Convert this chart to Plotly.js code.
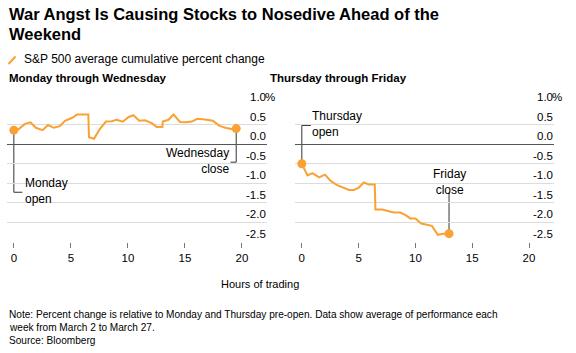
<!DOCTYPE html>
<html>
<head>
<meta charset="utf-8">
<script src="https://cdn.plot.ly/plotly-3.0.1.min.js"></script>
<style>
html,body{margin:0;padding:0;background:#fff;}
#chart{width:576px;height:353px;}
</style>
</head>
<body>
<div id="chart"></div>
<script>
// ---- Data ----
const hoursMonWed = [0, 0.38, 0.97, 1.46, 1.93, 2.52, 3.0, 3.5, 4.04, 4.48, 5.07, 5.56, 6.53, 6.59, 7.03, 7.55, 8.08, 8.58, 9.02, 9.55, 10.04, 10.48, 11.0, 11.5, 12.09, 12.53, 13.03, 13.06, 13.56, 14.0, 14.58, 15.08, 15.6, 16.1, 16.78, 17.45, 18.0, 18.54, 19.06, 19.5];
const pctMonWed   = [0.36, 0.375, 0.52, 0.56, 0.42, 0.36, 0.49, 0.42, 0.46, 0.6, 0.67, 0.76, 0.76, 0.18, 0.14, 0.39, 0.58, 0.59, 0.625, 0.575, 0.69, 0.74, 0.6, 0.61, 0.54, 0.44, 0.44, 0.58, 0.625, 0.76, 0.57, 0.56, 0.58, 0.65, 0.63, 0.6, 0.475, 0.42, 0.39, 0.4];
const hoursThuFri = [0, 0.5, 0.93, 1.52, 2.04, 2.54, 3.12, 3.56, 4.15, 4.58, 5.02, 5.46, 5.9, 6.42, 6.48, 7.07, 7.65, 8.09, 8.67, 9.1, 9.55, 10.0, 10.51, 11.0, 11.45, 11.97, 12.47, 12.96];
const pctThuFri   = [-0.5, -0.8, -0.74, -0.85, -0.78, -0.94, -1.05, -1.1, -1.17, -1.17, -1.11, -0.98, -1.03, -1.03, -1.67, -1.67, -1.72, -1.75, -1.75, -1.81, -1.9, -1.9, -2.03, -2.06, -2.09, -2.32, -2.29, -2.29];
const yTickVals   = [1.0, 0.5, 0, -0.5, -1.0, -1.5, -2.0, -2.5];
const yTickLabels = ["1.0", "0.5", "0.0", "-0.5", "-1.0", "-1.5", "-2.0", "-2.5"];
const xTickVals   = [0, 5, 10, 15, 20];
const panelTitles = ["Monday through Wednesday", "Thursday through Friday"];

// ---- Layout helpers (pixel -> paper) ----
const W = 576, H = 353;
const mL = 7, mR = 22, mT = 105, mB = 111;
const pw = W - mL - mR, ph = H - mT - mB;
const px = X => (X - mL) / pw;
const py = Y => (H - mB - Y) / ph;

const ORANGE = '#f9a132';
const FONT = '"Liberation Sans", Arial, sans-serif';
const domL = [0, px(267)], domR = [px(295), 1];

const first = (a) => a[0], last = (a) => a[a.length - 1];

const traces = [
  {x: hoursMonWed, y: pctMonWed, xaxis: 'x', yaxis: 'y', mode: 'lines', line: {color: ORANGE, width: 2}},
  {x: [first(hoursMonWed), last(hoursMonWed)], y: [first(pctMonWed), last(pctMonWed)], xaxis: 'x', yaxis: 'y', mode: 'markers', marker: {color: ORANGE, size: 9}},
  {x: hoursThuFri, y: pctThuFri, xaxis: 'x2', yaxis: 'y2', mode: 'lines', line: {color: ORANGE, width: 2}},
  {x: [first(hoursThuFri), last(hoursThuFri)], y: [first(pctThuFri), last(pctThuFri)], xaxis: 'x2', yaxis: 'y2', mode: 'markers', marker: {color: ORANGE, size: 9}}
];

const xAxisBase = {
  range: [-0.6, 22.2], tickvals: xTickVals, ticks: 'outside', ticklen: 5, tickwidth: 1, tickcolor: '#777',
  showgrid: false, zeroline: false, showline: false, tickfont: {size: 11.5, color: '#000', family: FONT}, fixedrange: true
};
const yAxisBase = {
  range: [-2.503, 1.003], tickvals: yTickVals, showticklabels: false, ticks: '',
  showgrid: true, gridcolor: '#dcdcdc', gridwidth: 1, zeroline: true, zerolinecolor: '#555', zerolinewidth: 1,
  showline: false, fixedrange: true
};

const ann = [];
const txt = (text, X, Y, opts) => ann.push(Object.assign({
  text: text, xref: 'paper', yref: 'paper', x: px(X), y: py(Y), xanchor: 'left', yanchor: 'middle',
  showarrow: false, font: {family: FONT, size: 12, color: '#000'}
}, opts || {}));

// Titles
txt('<b>War Angst Is Causing Stocks to Nosedive Ahead of the</b>', 7, 14, {font: {family: FONT, size: 16.5, color: '#000'}});
txt('<b>Weekend</b>', 7, 34, {font: {family: FONT, size: 16.5, color: '#000'}});
txt('S&P 500 average cumulative percent change', 22, 59, {font: {family: FONT, size: 12, color: '#000'}});
txt('<b>' + panelTitles[0] + '</b>', 7, 78, {font: {family: FONT, size: 11.5, color: '#000'}});
txt('<b>' + panelTitles[1] + '</b>', 268, 78, {font: {family: FONT, size: 11.5, color: '#000'}});
txt('Hours of trading', 260, 284, {xanchor: 'center', font: {family: FONT, size: 11, color: '#000'}});
txt('Note: Percent change is relative to Monday and Thursday pre-open. Data show average of performance each', 7, 314, {font: {family: FONT, size: 10.1, color: '#000'}});
txt('week from March 2 to March 27.', 7, 327, {font: {family: FONT, size: 10.1, color: '#000'}});
txt('Source: Bloomberg', 7, 340.5, {font: {family: FONT, size: 10.1, color: '#000'}});

// Y tick labels (above gridlines, right aligned) for both panels
[['y', domL[1]], ['y2', domR[1]]].forEach(([yr, xr]) => {
  yTickVals.forEach((v, i) => {
    ann.push({text: yTickLabels[i], xref: 'paper', yref: yr, x: xr, y: v, xanchor: 'right', yanchor: 'bottom', yshift: 1,
      showarrow: false, borderpad: 0, font: {family: FONT, size: 11.5, color: '#000'}});
  });
  ann.push({text: '%', xref: 'paper', yref: yr, x: xr, y: yTickVals[0], xanchor: 'left', yanchor: 'bottom', yshift: 1, xshift: -3,
    showarrow: false, borderpad: 0, font: {family: FONT, size: 11.5, color: '#000'}});
});

// Callout labels (data coordinates)
const callFont = {family: FONT, size: 12, color: '#000'};
const ca = (text, xr, x, Y, xanchor, align) => ann.push({text: text, xref: xr, yref: 'paper', x: x, y: py(Y), xanchor: xanchor, yanchor: 'middle', align: align, showarrow: false, borderpad: 0, font: callFont});
ca('Monday<br>open', 'x', 0.85, 191, 'left', 'left');
ca('Wednesday<br>close', 'x', 18.95, 161, 'right', 'right');
ca('Thursday<br>open', 'x2', 0.85, 124, 'left', 'left');
ca('Friday<br>close', 'x2', last(hoursThuFri), 182, 'center', 'center');

const LC = '#333';
const seg = (xr, yr, x0, y0, x1, y1) => ({type: 'line', xref: xr, yref: yr, x0: x0, y0: y0, x1: x1, y1: y1, line: {color: LC, width: 1}, layer: 'below'});
const shapes = [
  // Monday open elbow
  seg('x', 'y', first(hoursMonWed), first(pctMonWed), first(hoursMonWed), -1.23),
  seg('x', 'y', first(hoursMonWed), -1.23, 0.75, -1.23),
  // Wednesday close elbow
  seg('x', 'y', last(hoursMonWed), last(pctMonWed), last(hoursMonWed), -0.46),
  seg('x', 'y', last(hoursMonWed), -0.46, 19.0, -0.46),
  // Thursday open elbow
  seg('x2', 'y2', first(hoursThuFri), first(pctThuFri), first(hoursThuFri), 0.48),
  seg('x2', 'y2', first(hoursThuFri), 0.48, 0.8, 0.48),
  // Friday close
  seg('x2', 'y2', last(hoursThuFri), last(pctThuFri), last(hoursThuFri), -1.24),
  // legend icon
  {type: 'line', xref: 'paper', yref: 'paper', x0: px(8.5), y0: py(64), x1: px(15.5), y1: py(56.5), line: {color: ORANGE, width: 2}}
];

const layout = {
  width: W, height: H, margin: {l: mL, r: mR, t: mT, b: mB, pad: 0},
  paper_bgcolor: '#fff', plot_bgcolor: '#fff', showlegend: false,
  font: {family: FONT, color: '#000'},
  xaxis: Object.assign({}, xAxisBase, {domain: domL, anchor: 'y'}),
  xaxis2: Object.assign({}, xAxisBase, {domain: domR, anchor: 'y2'}),
  yaxis: Object.assign({}, yAxisBase, {domain: [0, 1], anchor: 'x'}),
  yaxis2: Object.assign({}, yAxisBase, {domain: [0, 1], anchor: 'x2'}),
  annotations: ann, shapes: shapes, hovermode: false
};

Plotly.newPlot('chart', traces, layout, {staticPlot: true, displayModeBar: false});
</script>
</body>
</html>
